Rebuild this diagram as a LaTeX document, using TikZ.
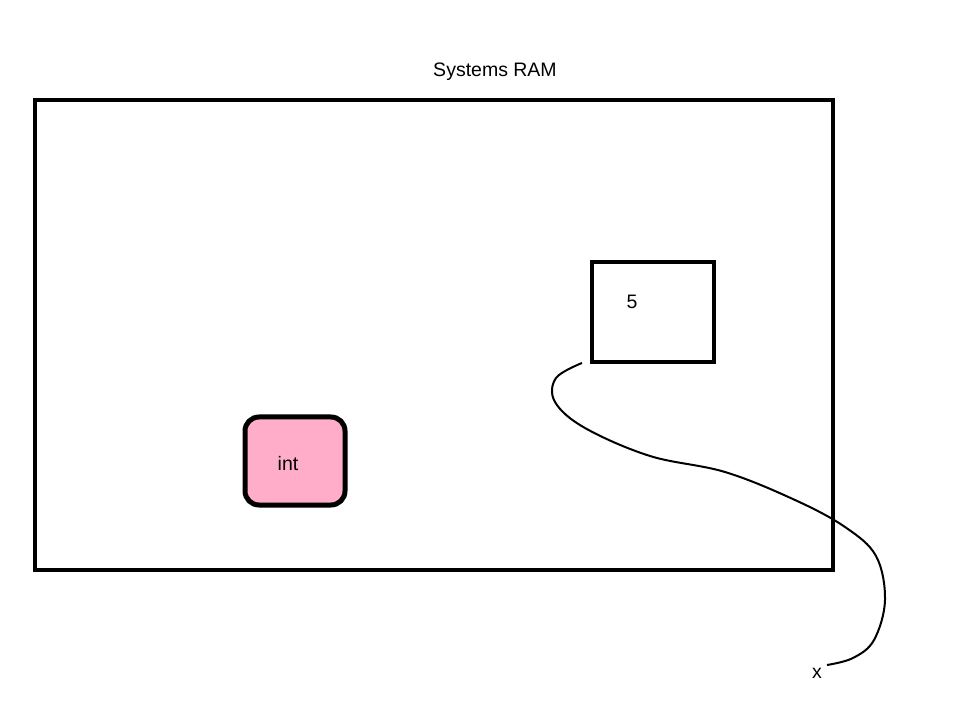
\documentclass[tikz,border=0pt]{standalone}
\usepackage{fontspec}
\setmainfont{Liberation Sans}
\begin{document}
\begin{tikzpicture}[x=1pt,y=-1pt,
  frame/.style={draw=black,line width=4},
  lbl/.style={font=\fontsize{19.5}{22}\selectfont,inner sep=0pt}]
\useasboundingbox[fill=white] (0,0) rectangle (972,708);
\node[lbl] (title) at (495,72) {Systems RAM};
\draw[frame] (35,100) rectangle (833,570);
\node[frame,minimum width=122,minimum height=100,inner sep=0pt] (box) at (653,312) {};
\node[lbl] (five) at (632,302) {5};
\node[draw=black,line width=5,fill={rgb,255:red,255;green,173;blue,201},rounded corners=14,minimum width=100,minimum height=88,inner sep=0pt] (intbox) at (295,461) {};
\node[lbl] (int) at (288,464) {int};
\node[lbl] (x) at (817,673) {x};
\coordinate (s) at (582,363);
\coordinate (e) at (827,665);
\draw[line width=2] plot[smooth,tension=0.6] coordinates {(s) (556,378) (555,402) (585,428) (650,456) (725,472) (795,500) (845,527) (876,556) (885,600) (874,640) (853,658) (e)};
\end{tikzpicture}
\end{document}
